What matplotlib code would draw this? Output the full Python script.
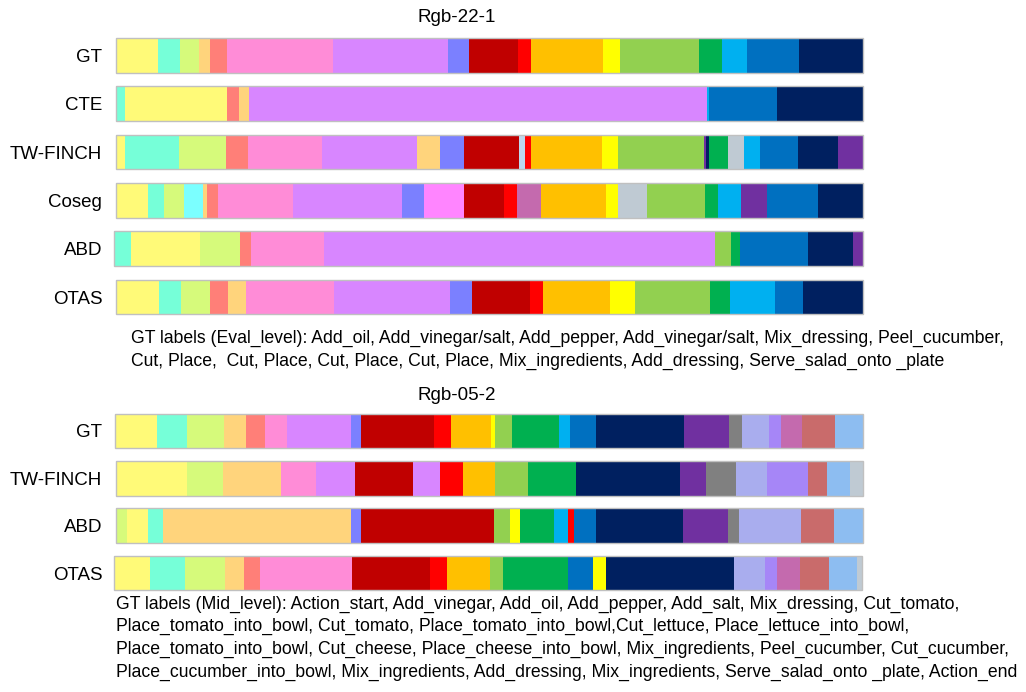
import matplotlib
matplotlib.use('Agg')
import matplotlib.pyplot as plt

plt.rcParams['font.family'] = ['Liberation Sans', 'DejaVu Sans']

# colour of each action class
palette = {
    'yel': '#FFFA78', 'aqua': '#76FFD8', 'lgrn': '#D6FA7B', 'lorg': '#FFD47C',
    'salm': '#FF7F78', 'pink': '#FF8CD7', 'viol': '#D886FF', 'bviol': '#7B80FF',
    'cyan': '#7BFFFF', 'mag': '#FF85FF', 'dred': '#C00000', 'red': '#FF0000',
    'orng': '#FFC000', 'ylw': '#FFFF00', 'grn': '#92D050', 'dgrn': '#00B050',
    'lblu': '#00B0F0', 'blu': '#0070C0', 'navy': '#002060', 'purp': '#7030A0',
    'grey': '#808080', 'peri': '#A9ADEE', 'mpur': '#A686F7', 'orch': '#C46AAE',
    'rosy': '#C96B6B', 'sky': '#8DBDF1', 'gblu': '#BFCAD3', 'pblu': '#BDD7EE',
}

# ---- Rgb-22-1 : segment boundaries (frames) and class of each segment
top_methods = ['GT', 'CTE', 'TW-FINCH', 'Coseg', 'ABD', 'OTAS']
top_edges = [
    [0, 42, 64, 83, 94, 111, 217, 332, 353, 402, 415, 487, 504, 583, 606, 631, 683, 747],
    [0, 9, 111, 123, 133, 591, 593, 661, 747],
    [0, 9, 63, 110, 132, 206, 301, 324, 348, 403, 409, 415, 486, 502, 588, 590, 593,
     612, 628, 644, 682, 722, 747],
    [0, 32, 48, 68, 87, 91, 102, 177, 286, 308, 348, 388, 401, 425, 490, 502, 531,
     589, 602, 625, 651, 702, 747],
    [-2, 15, 84, 124, 135, 208, 599, 615, 624, 692, 737, 747],
    [0, 43, 65, 94, 112, 130, 218, 334, 356, 414, 427, 494, 519, 594, 614, 659, 687, 747],
]
top_classes = [
    ['yel', 'aqua', 'lgrn', 'lorg', 'salm', 'pink', 'viol', 'bviol', 'dred', 'red',
     'orng', 'ylw', 'grn', 'dgrn', 'lblu', 'blu', 'navy'],
    ['aqua', 'yel', 'salm', 'lorg', 'viol', 'lblu', 'blu', 'navy'],
    ['yel', 'aqua', 'lgrn', 'salm', 'pink', 'viol', 'lorg', 'bviol', 'dred', 'pblu',
     'red', 'orng', 'ylw', 'grn', 'purp', 'navy', 'dgrn', 'gblu', 'lblu', 'blu',
     'navy', 'purp'],
    ['yel', 'aqua', 'lgrn', 'cyan', 'lorg', 'salm', 'pink', 'viol', 'bviol', 'mag',
     'dred', 'red', 'orch', 'orng', 'ylw', 'gblu', 'grn', 'dgrn', 'lblu', 'purp',
     'blu', 'navy'],
    ['aqua', 'yel', 'lgrn', 'salm', 'pink', 'viol', 'grn', 'dgrn', 'blu', 'navy', 'purp'],
    ['yel', 'aqua', 'lgrn', 'salm', 'lorg', 'pink', 'viol', 'bviol', 'dred', 'red',
     'orng', 'ylw', 'grn', 'dgrn', 'lblu', 'blu', 'navy'],
]

# ---- Rgb-05-2
bot_methods = ['GT', 'TW-FINCH', 'ABD', 'OTAS']
bot_edges = [
    [-1, 41, 71, 108, 130, 149, 171, 235, 245, 318, 335, 375, 379, 396, 443, 454, 480,
     568, 613, 626, 653, 665, 686, 719, 747],
    [0, 71, 107, 165, 200, 239, 297, 324, 347, 379, 412, 460, 564, 590, 620, 651, 692,
     711, 734, 747],
    [0, 11, 32, 47, 235, 245, 378, 394, 404, 438, 452, 458, 480, 567, 612, 623, 685,
     718, 747],
    [-2, 34, 69, 109, 128, 144, 236, 314, 331, 374, 387, 452, 477, 490, 618, 649, 661,
     684, 713, 741, 746],
]
bot_classes = [
    ['yel', 'aqua', 'lgrn', 'lorg', 'salm', 'pink', 'viol', 'bviol', 'dred', 'red',
     'orng', 'ylw', 'grn', 'dgrn', 'lblu', 'blu', 'navy', 'purp', 'grey', 'peri',
     'mpur', 'orch', 'rosy', 'sky'],
    ['yel', 'lgrn', 'lorg', 'pink', 'viol', 'dred', 'viol', 'red', 'orng', 'grn',
     'dgrn', 'navy', 'purp', 'grey', 'peri', 'mpur', 'rosy', 'sky', 'gblu'],
    ['lgrn', 'yel', 'aqua', 'lorg', 'bviol', 'dred', 'grn', 'ylw', 'dgrn', 'lblu',
     'red', 'blu', 'navy', 'purp', 'grey', 'peri', 'rosy', 'sky'],
    ['yel', 'aqua', 'lgrn', 'lorg', 'salm', 'pink', 'dred', 'red', 'orng', 'grn',
     'dgrn', 'blu', 'ylw', 'navy', 'peri', 'mpur', 'orch', 'rosy', 'sky', 'gblu'],
]

top_caption = ['GT labels (Eval_level): Add_oil, Add_vinegar/salt, Add_pepper, '
               'Add_vinegar/salt, Mix_dressing, Peel_cucumber,',
               'Cut, Place,  Cut, Place, Cut, Place, Cut, Place, Mix_ingredients, '
               'Add_dressing, Serve_salad_onto _plate']
bot_caption = ['GT labels (Mid_level): Action_start, Add_vinegar, Add_oil, Add_pepper, '
               'Add_salt, Mix_dressing, Cut_tomato,',
               'Place_tomato_into_bowl, Cut_tomato, Place_tomato_into_bowl,Cut_lettuce, '
               'Place_lettuce_into_bowl,',
               'Place_tomato_into_bowl, Cut_cheese, Place_cheese_into_bowl, '
               'Mix_ingredients, Peel_cucumber, Cut_cucumber,',
               'Place_cucumber_into_bowl, Mix_ingredients, Add_dressing, '
               'Mix_ingredients, Serve_salad_onto _plate, Action_end']

W, H = 1026, 692
FS = 13.5      # tick labels and titles
CAP_FS = 12.7  # caption lines under each panel


def segment_panel(ax, methods, edges, classes, height):
    for i, (e, c) in enumerate(zip(edges, classes)):
        lefts = e[:-1]
        widths = [b - a for a, b in zip(e[:-1], e[1:])]
        ax.barh([i] * len(widths), widths, left=lefts, height=height,
                color=[palette[k] for k in c], linewidth=0)
        # thin grey frame around the whole bar
        ax.barh(i, e[-1] - e[0], left=e[0], height=height, fill=False,
                edgecolor='#C0C0C0', linewidth=1.0)
    ax.set_yticks(range(len(methods)))
    ax.set_yticklabels(methods, fontsize=FS)
    ax.set_ylim(len(methods) - 0.5, -0.5)
    ax.set_xlim(-4, 750)
    ax.set_xticks([])
    ax.tick_params(axis='y', length=0, pad=7)
    for s in ax.spines.values():
        s.set_visible(False)


def fig_axes(fig, top_px, bottom_px, left_px=112, right_px=866):
    return fig.add_axes([left_px / W, 1 - bottom_px / H,
                         (right_px - left_px) / W, (bottom_px - top_px) / H])


fig = plt.figure(figsize=(W / 100, H / 100), dpi=100)

ax1 = fig_axes(fig, 31.3, 321.2)
segment_panel(ax1, top_methods, top_edges, top_classes, 0.72)
fig.text(457 / W, 1 - 18 / H, 'Rgb-22-1', fontsize=FS, ha='center', va='center')
for k, line in enumerate(top_caption):
    fig.text(131 / W, 1 - (338 + 23 * k) / H, line, fontsize=CAP_FS, va='center')

ax2 = fig_axes(fig, 407.3, 596.7)
segment_panel(ax2, bot_methods, bot_edges, bot_classes, 0.73)
fig.text(457 / W, 1 - 396 / H, 'Rgb-05-2', fontsize=FS, ha='center', va='center')
for k, line in enumerate(bot_caption):
    fig.text(116 / W, 1 - (604 + 22.7 * k) / H, line, fontsize=CAP_FS, va='center')

fig.savefig('out.png', dpi=100)
